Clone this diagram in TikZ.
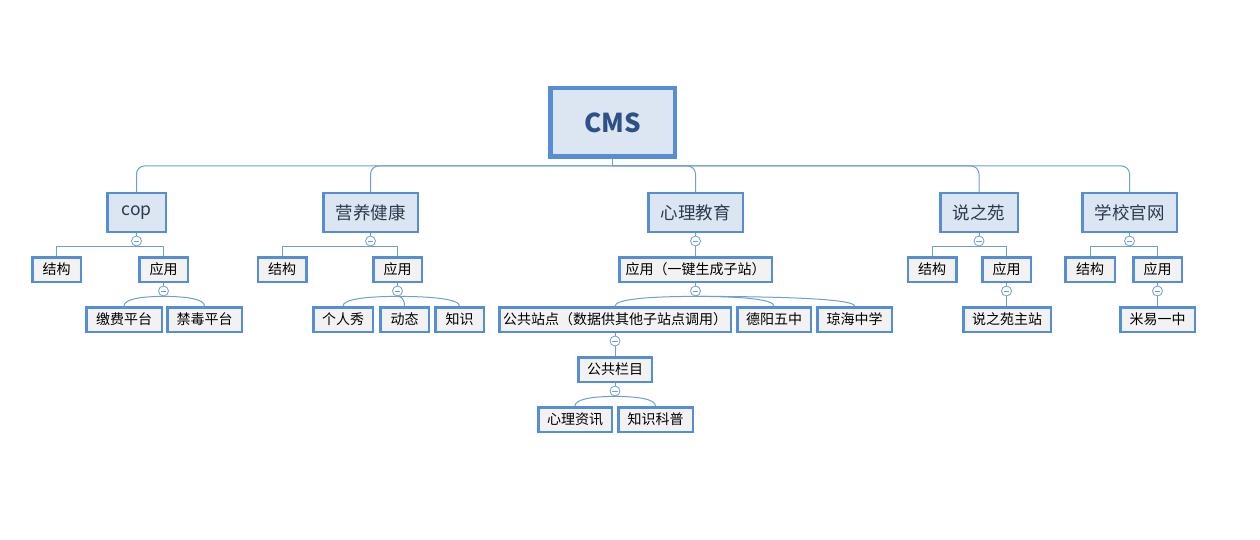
\documentclass[tikz,border=0pt]{standalone}
\usepackage{fontspec}
\usetikzlibrary{calc}
\setmainfont{Noto Sans CJK SC}
\definecolor{boxC}{HTML}{558ED5}
\definecolor{lineC}{HTML}{6F9DD8}
\definecolor{topicFill}{HTML}{DCE6F2}
\definecolor{leafFill}{HTML}{F2F2F2}
\definecolor{topicText}{HTML}{2B3A4E}
\definecolor{rootText}{HTML}{2E5088}
\tikzset{
  conn/.style={draw=lineC, line width=1pt},
  bw/.style={minimum width=#1pt-2.5pt},
  rootbox/.style={draw=boxC, line width=4.5pt, fill=topicFill, text=rootText,
    font=\fontsize{26}{30}\selectfont\bfseries, inner sep=0pt,
    minimum width=124.5pt, minimum height=68.5pt},
  topicbox/.style={draw=boxC, line width=2.5pt, fill=topicFill, text=topicText,
    font=\fontsize{17.5}{20}\selectfont, inner sep=0pt, minimum height=38.5pt},
  leafbox/.style={draw=boxC, line width=2.5pt, fill=leafFill, text=black,
    font=\fontsize{14}{16}\selectfont, inner sep=0pt, minimum height=24.5pt},
  toggle/.style={circle, draw=lineC, fill=white, line width=0.8pt,
    minimum size=10pt, inner sep=0pt,
    path picture={\draw[lineC, line width=0.8pt]
      ([xshift=-2.8pt]path picture bounding box.center) --
      ([xshift=2.8pt]path picture bounding box.center);}},
}
\newcommand{\fanline}[2]{%
  \draw[conn] (#1.south) .. controls ($(#1.south)!0.55!(#1.south -| #2.north)$)
    and ($(#2.north)+(0,-7)$) .. (#2.north);}
\begin{document}
\begin{tikzpicture}[x=1pt, y=-1pt]
\useasboundingbox (0,0) rectangle (1260,540);
\fill[white] (0,0) rectangle (1260,540);

% root
\node[rootbox] (cms) at (612.5,122.5) {CMS};
\coordinate (hub) at (612.5,166);

% topics
\node[topicbox, bw=61] (cop) at (136.5,212.5) {cop};
\node[topicbox, bw=97] (yy) at (370.5,212.5) {营养健康};
\node[topicbox, bw=97] (xl) at (695.5,212.5) {心理教育};
\node[topicbox, bw=80] (szy) at (979,212.5) {说之苑};
\node[topicbox, bw=97] (xx) at (1129.5,212.5) {学校官网};

% level 2
\node[leafbox, bw=51] (copjg) at (56.5,269.5) {结构};
\node[leafbox, bw=51] (copyy) at (163.5,269.5) {应用};
\node[leafbox, bw=51] (yyjg) at (282,269.5) {结构};
\node[leafbox, bw=51] (yyyy) at (397.5,269.5) {应用};
\node[leafbox, bw=155] (xlyy) at (695.5,269.5) {应用（一键生成子站）};
\node[leafbox, bw=51] (szyjg) at (932,269.5) {结构};
\node[leafbox, bw=51] (szyyy) at (1006.5,269.5) {应用};
\node[leafbox, bw=52] (xxjg) at (1090,269.5) {结构};
\node[leafbox, bw=51] (xxyy) at (1157.5,269.5) {应用};

% level 3
\node[leafbox, bw=78] (jf) at (124,319.5) {缴费平台};
\node[leafbox, bw=77] (jd) at (204.5,319.5) {禁毒平台};
\node[leafbox, bw=62] (grx) at (343,319.5) {个人秀};
\node[leafbox, bw=51] (dt) at (404.5,319.5) {动态};
\node[leafbox, bw=51] (zs) at (459.5,319.5) {知识};
\node[leafbox, bw=234] (ggzd) at (615,319.5) {公共站点（数据供其他子站点调用）};
\node[leafbox, bw=76] (dy) at (774,319.5) {德阳五中};
\node[leafbox, bw=77] (qh) at (854.5,319.5) {琼海中学};
\node[leafbox, bw=90] (szyzz) at (1007,319.5) {说之苑主站};
\node[leafbox, bw=77] (myyz) at (1157.5,319.5) {米易一中};

% level 4, 5
\node[leafbox, bw=76] (gglm) at (615,369.5) {公共栏目};
\node[leafbox, bw=76] (xlzx) at (575,419.5) {心理资讯};
\node[leafbox, bw=77] (zskp) at (655.5,419.5) {知识科普};

% root connectors
\draw[conn] (cms.south) -- (hub);
\foreach \t in {cop,yy,xl,szy,xx}
  \draw[conn, rounded corners=8pt] (hub) -| (\t.north);

% toggles
\node[toggle] (tcop) at (136.5,241) {};
\node[toggle] (tyy) at (370.5,241) {};
\node[toggle] (txl) at (695.5,241) {};
\node[toggle] (tszy) at (979,241) {};
\node[toggle] (txx) at (1129.5,241) {};
\node[toggle] (tcopyy) at (163.5,291) {};
\node[toggle] (tyyyy) at (397.5,291) {};
\node[toggle] (txlyy) at (695.5,291) {};
\node[toggle] (tszyyy) at (1006.5,291) {};
\node[toggle] (txxyy) at (1157.5,291) {};
\node[toggle] (tggzd) at (615,341) {};
\node[toggle] (tgglm) at (615,391) {};

% parent to toggle
\draw[conn] (cop.south) -- (tcop.north);
\draw[conn] (yy.south) -- (tyy.north);
\draw[conn] (xl.south) -- (txl.north);
\draw[conn] (szy.south) -- (tszy.north);
\draw[conn] (xx.south) -- (txx.north);
\draw[conn] (copyy.south) -- (tcopyy.north);
\draw[conn] (yyyy.south) -- (tyyyy.north);
\draw[conn] (xlyy.south) -- (txlyy.north);
\draw[conn] (szyyy.south) -- (tszyyy.north);
\draw[conn] (xxyy.south) -- (txxyy.north);
\draw[conn] (ggzd.south) -- (tggzd.north);
\draw[conn] (gglm.south) -- (tgglm.north);

% brackets to 结构 / 应用
\draw[conn] (copjg.north) |- (tcop.south) -| (copyy.north);
\draw[conn] (yyjg.north) |- (tyy.south) -| (yyyy.north);
\draw[conn] (szyjg.north) |- (tszy.south) -| (szyyy.north);
\draw[conn] (xxjg.north) |- (txx.south) -| (xxyy.north);

% single children
\draw[conn] (txl.south) -- (xlyy.north);
\draw[conn] (tszyyy.south) -- (szyyy.north |- szyzz.north);
\draw[conn] (txxyy.south) -- (myyz.north);
\draw[conn] (tggzd.south) -- (gglm.north);

% curved fans
\fanline{tcopyy}{jf}
\fanline{tcopyy}{jd}
\fanline{tyyyy}{grx}
\fanline{tyyyy}{dt}
\fanline{tyyyy}{zs}
\fanline{txlyy}{ggzd}
\fanline{txlyy}{dy}
\fanline{txlyy}{qh}
\fanline{tgglm}{xlzx}
\fanline{tgglm}{zskp}
\end{tikzpicture}
\end{document}
